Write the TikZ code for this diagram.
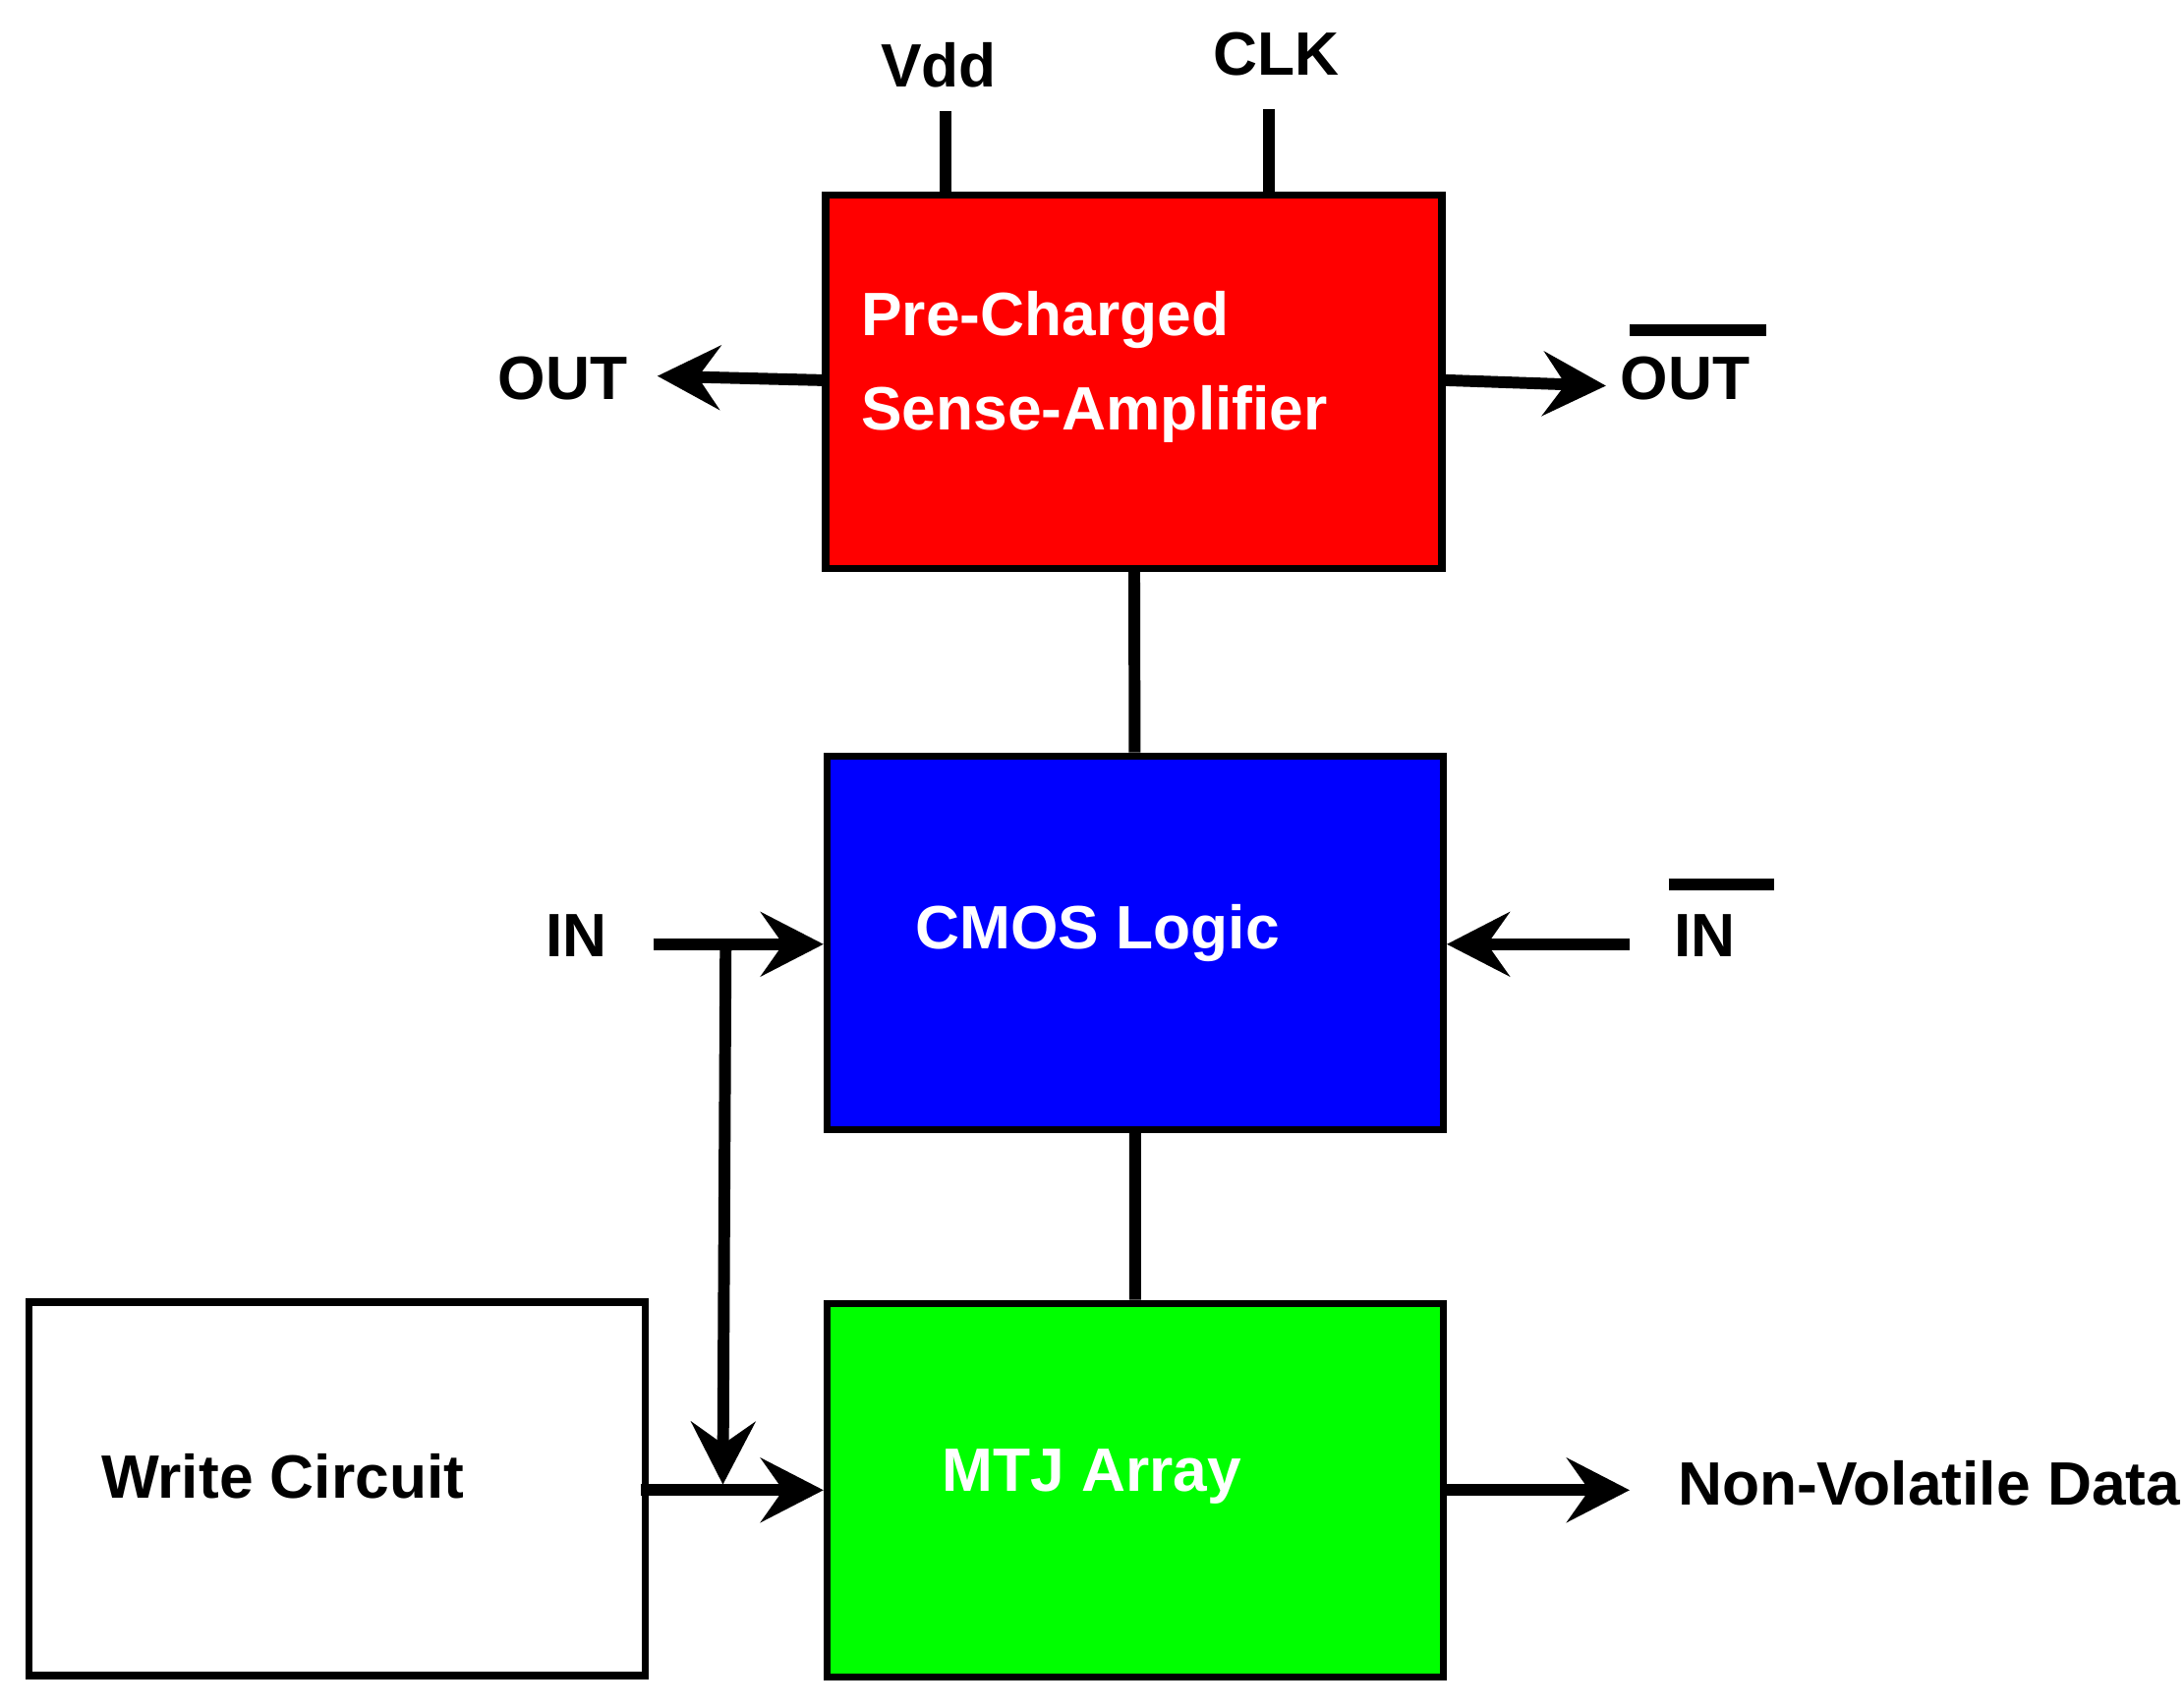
\documentclass[tikz,border=0pt]{standalone}
\usepackage{fontspec}
\setmainfont{Liberation Sans}
\usetikzlibrary{arrows.meta}
\tikzset{
  blk/.style={draw,line width=1.5pt,minimum width=4.42cm,minimum height=2.68cm,inner sep=0pt},
  wire/.style={line width=2.4pt},
  arr/.style={wire,-{Stealth[length=4.5mm,width=4.6mm,inset=1.6mm]}},
  lbl/.style={font=\bfseries\fontsize{12.5}{15}\selectfont}
}
\begin{document}
\begin{tikzpicture}[x=0.01cm,y=-0.01cm]
      \useasboundingbox (0,0) rectangle (1568,1226);
      {\bfseries
        \node (sa)    at (814,274)  [blk,fill=red] {};
        \node (cmos)  at (815,677)  [blk,fill=blue] {};
        \node (mtj)   at (815,1070) [blk,fill=green] {};
        \node (write) at (242,1069) [blk,fill=white] {};

        \node[lbl,white,anchor=west] (satxt1) at (606,230) {Pre-Charged};
        \node[lbl,white,anchor=west] (satxt2) at (606,297) {Sense-Amplifier};
        \node[lbl,white] (cmostxt)  at (788,670)  {CMOS Logic};
        \node[lbl,white] (mtjtxt)   at (784,1060) {MTJ Array};
        \node[lbl] (writetxt) at (203,1060) {Write Circuit};

        \node[lbl] (vdd)    at (674,47)   {Vdd};
        \node[lbl] (clk)    at (916,39)   {CLK};
        \node[lbl] (out)    at (404,272)  {OUT};
        \node[lbl] (outbar) at (1210,272) {OUT};
        \node[lbl] (in)     at (414,672)  {IN};
        \node[lbl] (inbar)  at (1224,672) {IN};
        \node[lbl] (nvd)    at (1385,1065) {Non-Volatile Data};

        \coordinate (vddend) at (679,80);
        \coordinate (clkend) at (911,78);
        \coordinate (outtip) at (472,270);
        \coordinate (outbartip) at (1153,277);
        \coordinate (instart) at (469,678);
        \coordinate (inbarstart) at (1170,678);
        \coordinate (branch) at (521,678);
        \coordinate (branchtip) at (519,1066);
        \coordinate (wrstart) at (460,1070);
        \coordinate (nvdtip) at (1170,1070);

        \draw[wire] (vddend) -- (vddend |- sa.north);
        \draw[wire] (clkend) -- (clkend |- sa.north);
        \draw[arr] (sa.west |- 0,273) -- (outtip);
        \draw[arr] (sa.east |- 0,273) -- (outbartip);
        \draw[wire] (1170,237) -- (1268,237);
        \draw[wire] (1198,635) -- (1274,635);
        \draw[wire] (sa) -- (cmos) -- (mtj);
        \draw[arr] (instart) -- (cmos.west |- instart);
        \draw[arr] (inbarstart) -- (cmos.east |- inbarstart);
        \draw[arr] (branch) -- (branchtip);
        \draw[arr] (wrstart) -- (mtj.west |- wrstart);
        \draw[arr] (mtj.east |- nvdtip) -- (nvdtip);
      }
    \end{tikzpicture}
\end{document}
